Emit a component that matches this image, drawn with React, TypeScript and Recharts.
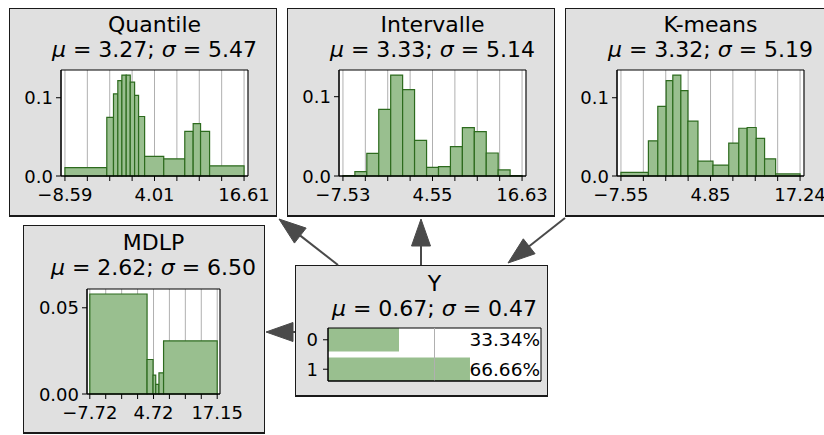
import React from 'react';
import { ComposedChart, XAxis, YAxis, CartesianGrid, ReferenceArea, ReferenceLine } from 'recharts';

const FONT = '"DejaVu Sans", sans-serif';
const FILL = '#99bf8f';
const EDGE = '#2d6b1e';
const BOX_BG = '#e0e0e0';
const ARROW = '#4a4a4a';
const GRID = '#b0b0b0';
const TICK_FS = 18;
const PCT_FS = 18.5;
const TITLE_FS = 22;

// ---- Quantile ----
const quantileEdges = [-8.59, -2.7, -1.76, -1.15, -0.58, 0.03, 0.6, 1.21, 1.77, 2.62, 5.31, 8.27, 9.45, 10.49, 11.76, 16.61];
const quantileDensity = [0.0107, 0.075, 0.105, 0.122, 0.129, 0.129, 0.12, 0.103, 0.076, 0.025, 0.022, 0.057, 0.067, 0.057, 0.013];
const quantileTicks = [-8.59, -5.44, -2.29, 0.86, 4.01, 7.16, 10.31, 13.46, 16.61];
const quantileTickLabels = ['\u22128.59', '', '', '', '4.01', '', '', '', '16.61'];

// ---- Intervalle ----
const intervalleEdges = [-7.53, -5.92, -4.31, -2.7, -1.09, 0.52, 2.13, 3.75, 5.36, 6.97, 8.58, 10.19, 11.8, 13.41, 15.02, 16.63];
const intervalleDensity = [0.0006, 0.0055, 0.0286, 0.084, 0.1273, 0.109, 0.045, 0.011, 0.0118, 0.037, 0.061, 0.056, 0.029, 0.0076, 0.0005];
const intervalleTicks = [-7.53, -4.51, -1.49, 1.53, 4.55, 7.57, 10.59, 13.61, 16.63];
const intervalleTickLabels = ['\u22127.53', '', '', '', '4.55', '', '', '', '16.63'];

// ---- K-means ----
const kmeansEdges = [-7.55, -3.75, -2.45, -1.29, -0.37, 0.74, 1.72, 3.11, 5.19, 7.37, 8.76, 9.92, 11.17, 12.33, 13.86, 17.24];
const kmeansDensity = [0.0047, 0.045, 0.089, 0.122, 0.129, 0.109, 0.07, 0.019, 0.014, 0.042, 0.061, 0.062, 0.048, 0.022, 0.0026];
const kmeansTicks = [-7.55, -4.45, -1.35, 1.75, 4.85, 7.94, 11.04, 14.14, 17.24];
const kmeansTickLabels = ['\u22127.55', '', '', '', '4.85', '', '', '', '17.24'];

// ---- MDLP ----
const mdlpEdges = [-7.72, 3.46, 4.63, 5.15, 5.78, 6.68, 17.15];
const mdlpDensity = [0.058, 0.02, 0.011, 0.0056, 0.0123, 0.0308];
const mdlpTicks = [-7.72, -4.61, -1.5, 1.61, 4.72, 7.82, 10.93, 14.04, 17.15];
const mdlpTickLabels = ['\u22127.72', '', '', '', '4.72', '', '', '', '17.15'];

const histYTicks = [0, 0.1];
const histYTickLabels = ['0.0', '0.1'];
const mdlpYTicks = [0, 0.05];
const mdlpYTickLabels = ['0.00', '0.05'];

// ---- Y ----
const yCategories = [0, 1];
const yCategoryLabels = ['0', '1'];
const yProbabilities = [0.3334, 0.6666];
const yPercentLabels = ['33.34%', '66.66%'];
const yXTicks = [0, 0.5, 1];

// ---- titles ----
const nodeNames = ['Quantile', 'Intervalle', 'K-means', 'MDLP', 'Y'];
const nodeMeans = ['3.27', '3.33', '3.32', '2.62', '0.67'];
const nodeStds = ['5.47', '5.14', '5.19', '6.50', '0.47'];

type Box = { left: number; top: number; width: number; height: number };
type Plot = { left: number; top: number; width: number; height: number };

const makeXTick = (labels: string[]) => (p: any) => (
  <text x={p.x} y={p.y + 15.5} textAnchor="middle" fontSize={TICK_FS} fontFamily={FONT} fill="#000">
    {labels[p.index] ?? ''}
  </text>
);
const makeYTick = (labels: string[]) => (p: any) => (
  <text x={p.x} y={p.y + 6.5} textAnchor="end" fontSize={TICK_FS} fontFamily={FONT} fill="#000">
    {labels[p.index] ?? ''}
  </text>
);

function Histogram(props: {
  box: Box; plot: Plot; edges: number[]; density: number[]; ticks: number[]; tickLabels: string[];
  yTicks: number[]; yTickLabels: string[];
}) {
  const { box, plot, edges, density, ticks, tickLabels, yTicks, yTickLabels } = props;
  const xmin = edges[0];
  const xmax = edges[edges.length - 1];
  const pad = (xmax - xmin) * 0.022;
  const xDomain: [number, number] = [xmin - pad, xmax + pad];
  const yMax = Math.max(...density) * 1.05;
  const yAxisW = plot.left - box.left;
  const top = plot.top - box.top;
  const xAxisH = box.height - top - plot.height;
  const right = box.width - yAxisW - plot.width;
  const bins = density.map((d, i) => ({ x0: edges[i], x1: edges[i + 1], d }));
  return (
    <div style={{ position: 'absolute', left: box.left, top: box.top }}>
      <ComposedChart width={box.width} height={box.height} data={bins} margin={{ top, right, bottom: 0, left: 0 }}>
        <CartesianGrid horizontal={false} stroke={GRID} fill="#fff" strokeWidth={1} />
        <XAxis type="number" dataKey="x0" domain={xDomain} ticks={ticks} interval={0} allowDataOverflow height={xAxisH}
          tick={makeXTick(tickLabels)} tickLine={{ stroke: '#000' }}
          axisLine={{ stroke: '#000' }} tickSize={5} tickMargin={4} />
        <YAxis type="number" domain={[0, yMax]} ticks={yTicks} interval={0} allowDataOverflow width={yAxisW}
          tick={makeYTick(yTickLabels)} tickLine={{ stroke: '#000' }}
          axisLine={{ stroke: '#000' }} tickSize={5} tickMargin={3} />
        {bins.map((b, i) => (
          <ReferenceArea key={i} x1={b.x0} x2={b.x1} y1={0} y2={b.d} fill={FILL} fillOpacity={1}
            stroke={EDGE} strokeWidth={1.2} ifOverflow="visible" />
        ))}
        <ReferenceArea x1={xDomain[0]} x2={xDomain[1]} y1={0} y2={yMax} fill="none" stroke="#000" strokeWidth={1} ifOverflow="visible" />
      </ComposedChart>
    </div>
  );
}

const renderPct = (props: any) => {
  const vb = props.viewBox || {};
  return (
    <text x={vb.x + vb.width - 1} y={vb.y + vb.height / 2 + 6.6} textAnchor="end" fontSize={PCT_FS} fontFamily={FONT} fill="#000">
      {props.value}
    </text>
  );
};

function YNode({ box, plot }: { box: Box; plot: Plot }) {
  const yAxisW = plot.left - box.left;
  const top = plot.top - box.top;
  const xAxisH = box.height - top - plot.height;
  const right = box.width - yAxisW - plot.width;
  const data = yCategories.map((c, i) => ({ c, p: yProbabilities[i] }));
  return (
    <div style={{ position: 'absolute', left: box.left, top: box.top }}>
      <ComposedChart width={box.width} height={box.height} data={data} margin={{ top, right, bottom: 0, left: 0 }}>
        <CartesianGrid horizontal={false} vertical={false} fill="#fff" />
        <XAxis type="number" dataKey="p" domain={[0, 1]} ticks={yXTicks} interval={0} allowDataOverflow height={xAxisH}
          tick={false} tickLine={{ stroke: '#000' }} axisLine={{ stroke: '#000' }} tickSize={5} />
        <YAxis type="number" dataKey="c" domain={[-0.4, 1.4]} reversed ticks={yCategories} interval={0} allowDataOverflow width={yAxisW}
          tick={makeYTick(yCategoryLabels)} tickLine={{ stroke: '#000' }}
          axisLine={{ stroke: '#000' }} tickSize={5} tickMargin={5} />
        {data.map((d, i) => (
          <ReferenceArea key={'b' + i} x1={0} x2={d.p} y1={d.c - 0.4} y2={d.c + 0.4} fill={FILL} fillOpacity={1} stroke="none" ifOverflow="visible" />
        ))}
        <ReferenceLine x={0.5} stroke={GRID} strokeWidth={1} ifOverflow="visible" />
        {data.map((d, i) => (
          <ReferenceArea key={'t' + i} x1={0} x2={1} y1={d.c - 0.4} y2={d.c + 0.4} fill="none" stroke="none" ifOverflow="visible"
            label={{ value: yPercentLabels[i], position: 'insideRight', content: renderPct }} />
        ))}
        <ReferenceArea x1={0} x2={1} y1={-0.4} y2={1.4} fill="none" stroke="#000" strokeWidth={1} ifOverflow="visible" />
      </ComposedChart>
    </div>
  );
}

function Arrow({ x1, y1, x2, y2 }: { x1: number; y1: number; x2: number; y2: number }) {
  const dx = x2 - x1;
  const dy = y2 - y1;
  const len = Math.sqrt(dx * dx + dy * dy);
  const ux = dx / len;
  const uy = dy / len;
  const hl = 27;
  const hw = 9.5;
  const bx = x2 - ux * hl;
  const by = y2 - uy * hl;
  const pts = `${x2},${y2} ${bx - uy * hw},${by + ux * hw} ${bx + uy * hw},${by - ux * hw}`;
  return (
    <g>
      <line x1={x1} y1={y1} x2={bx} y2={by} stroke={ARROW} strokeWidth={2} />
      <polygon points={pts} fill={ARROW} stroke={ARROW} strokeWidth={1} />
    </g>
  );
}

function Title({ cx, baseline, idx }: { cx: number; baseline: number; idx: number }) {
  return (
    <g fontFamily={FONT} fontSize={TITLE_FS} fill="#000" textAnchor="middle">
      <text x={cx} y={baseline - 25}>{nodeNames[idx]}</text>
      <text x={cx} y={baseline}>
        <tspan fontStyle="italic">μ</tspan>{' = ' + nodeMeans[idx] + '; '}<tspan fontStyle="italic">σ</tspan>{' = ' + nodeStds[idx]}
      </text>
    </g>
  );
}

const boxStyle = (b: Box): React.CSSProperties => ({
  position: 'absolute', left: b.left, top: b.top, width: b.width, height: b.height, boxSizing: 'border-box',
  background: BOX_BG, border: '1px solid #1a1a1a', borderBottomWidth: 2,
});

const qBox: Box = { left: 9, top: 8, width: 268, height: 209 };
const iBox: Box = { left: 287, top: 8, width: 268, height: 209 };
const kBox: Box = { left: 565, top: 8, width: 268, height: 209 };
const mBox: Box = { left: 23, top: 225, width: 242, height: 209 };
const yBox: Box = { left: 295, top: 265, width: 253, height: 132 };

const qPlot: Plot = { left: 61, top: 70, width: 187, height: 106 };
const iPlot: Plot = { left: 339, top: 70, width: 187, height: 106 };
const kPlot: Plot = { left: 617, top: 70, width: 187, height: 106 };
const mPlot: Plot = { left: 87, top: 289, width: 133, height: 105 };
const yPlot: Plot = { left: 328, top: 328, width: 213, height: 53 };

export default function App() {
  return (
    <div style={{ position: 'absolute', left: 0, top: 0, width: 824, height: 435, overflow: 'hidden', background: '#fff', fontFamily: FONT }}>
      <div style={boxStyle(qBox)} />
      <div style={boxStyle(iBox)} />
      <div style={boxStyle(kBox)} />
      <div style={boxStyle(mBox)} />
      <div style={boxStyle(yBox)} />
      <Histogram box={qBox} plot={qPlot} edges={quantileEdges} density={quantileDensity} ticks={quantileTicks}
        tickLabels={quantileTickLabels} yTicks={histYTicks} yTickLabels={histYTickLabels} />
      <Histogram box={iBox} plot={iPlot} edges={intervalleEdges} density={intervalleDensity} ticks={intervalleTicks}
        tickLabels={intervalleTickLabels} yTicks={histYTicks} yTickLabels={histYTickLabels} />
      <Histogram box={kBox} plot={kPlot} edges={kmeansEdges} density={kmeansDensity} ticks={kmeansTicks}
        tickLabels={kmeansTickLabels} yTicks={histYTicks} yTickLabels={histYTickLabels} />
      <Histogram box={mBox} plot={mPlot} edges={mdlpEdges} density={mdlpDensity} ticks={mdlpTicks}
        tickLabels={mdlpTickLabels} yTicks={mdlpYTicks} yTickLabels={mdlpYTickLabels} />
      <YNode box={yBox} plot={yPlot} />
      <svg width={824} height={435} style={{ position: 'absolute', left: 0, top: 0, pointerEvents: 'none' }}>
        <Arrow x1={338} y1={265} x2={279} y2={219} />
        <Arrow x1={421} y1={265} x2={421} y2={219} />
        <Arrow x1={565} y1={218} x2={508} y2={263} />
        <Arrow x1={295} y1={332} x2={266} y2={332} />
        <Title cx={154.5} baseline={57} idx={0} />
        <Title cx={432.5} baseline={57} idx={1} />
        <Title cx={710.5} baseline={57} idx={2} />
        <Title cx={153.5} baseline={275} idx={3} />
        <Title cx={434.5} baseline={316} idx={4} />
      </svg>
    </div>
  );
}
